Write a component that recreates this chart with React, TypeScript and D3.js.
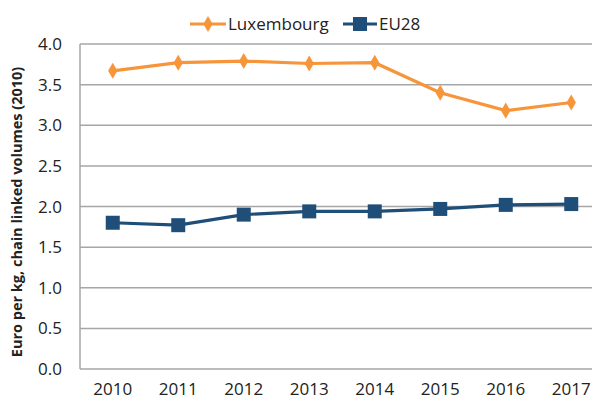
import * as d3 from "d3";
import React from "react";

const years = ["2010", "2011", "2012", "2013", "2014", "2015", "2016", "2017"];
const luxembourg = [3.67, 3.77, 3.79, 3.76, 3.77, 3.4, 3.18, 3.28];
const eu28 = [1.8, 1.77, 1.9, 1.94, 1.94, 1.97, 2.02, 2.03];
const yTicks = [0, 0.5, 1, 1.5, 2, 2.5, 3, 3.5, 4];

const orange = "#f7953b";
const navy = "#1f4e79";
const font = "'Open Sans', 'Liberation Sans', sans-serif";

export default function App() {
  const svgWidth = 592;
  const svgHeight = 401;
  const margin = { top: 44, right: -12, bottom: 32, left: 80 };
  const w = svgWidth - margin.left - margin.right;
  const h = svgHeight - margin.top - margin.bottom;

  const x = d3.scaleBand().domain(years).range([0, w]);
  const y = d3.scaleLinear().domain([0, 4]).range([h, 0]);
  const cx = (d: string) => (x(d) || 0) + x.bandwidth() / 2;

  const line = d3
    .line<number>()
    .x((_, i) => cx(years[i]))
    .y((d) => y(d));

  const diamond = d3.symbol().type(d3.symbolDiamond).size(75)();

  return (
    <svg width={svgWidth} height={svgHeight} style={{ position: "absolute", left: 0, top: 0 }} fontFamily={font}>
      <rect width={svgWidth} height={svgHeight} fill="#fff" />
      <g transform={`translate(${margin.left},${margin.top})`}>
        {yTicks.map((t) => (
          <g key={t}>
            <line x1={0} x2={w} y1={y(t)} y2={y(t)} stroke="#a6a6a6" strokeWidth={1.5} />
            <text x={-18} y={y(t)} dy="0.36em" textAnchor="end" fontSize={17} fill="#222">
              {t.toFixed(1)}
            </text>
          </g>
        ))}
        <line x1={0} x2={0} y1={0} y2={h} stroke="#a6a6a6" strokeWidth={1.5} />
        {years.map((yr) => (
          <text key={yr} x={cx(yr)} y={h + 26} textAnchor="middle" fontSize={17} fill="#222">
            {yr}
          </text>
        ))}
        <path d={line(luxembourg) || ""} fill="none" stroke={orange} strokeWidth={3.2} />
        {luxembourg.map((v, i) => (
          <path key={i} d={diamond || ""} transform={`translate(${cx(years[i])},${y(v)})`} fill={orange} />
        ))}
        <path d={line(eu28) || ""} fill="none" stroke={navy} strokeWidth={3.2} />
        {eu28.map((v, i) => (
          <rect key={i} x={cx(years[i]) - 7} y={y(v) - 7} width={14} height={14} fill={navy} />
        ))}
      </g>
      <text
        transform={`translate(22,212) rotate(-90)`}
        textAnchor="middle"
        fontSize={14.5}
        fontWeight="bold"
        fill="#222"
      >
        Euro per kg, chain linked volumes (2010)
      </text>
      <g transform="translate(190,24)">
        <line x1={0} x2={36} y1={0} y2={0} stroke={orange} strokeWidth={3.2} />
        <path d={diamond || ""} transform="translate(18,0)" fill={orange} />
        <text x={38} y={0} dy="0.36em" fontSize={17} fill="#222">
          Luxembourg
        </text>
        <line x1={153} x2={187} y1={0} y2={0} stroke={navy} strokeWidth={3.2} />
        <rect x={163} y={-7} width={14} height={14} fill={navy} />
        <text x={189} y={0} dy="0.36em" fontSize={17} fill="#222">
          EU28
        </text>
      </g>
    </svg>
  );
}
